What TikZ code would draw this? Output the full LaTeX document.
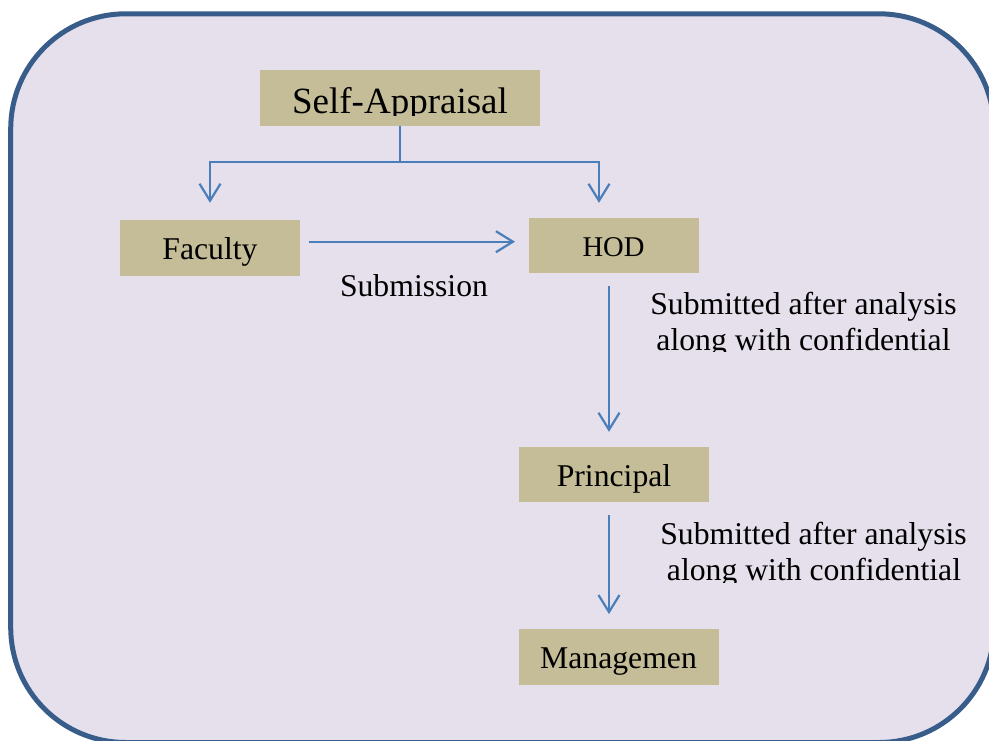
\documentclass[tikz,border=0pt]{standalone}
\usepackage{fontspec}
\setmainfont{Liberation Serif}
\usetikzlibrary{arrows.meta}

\definecolor{framefill}{HTML}{E6E0EC}
\definecolor{frameline}{HTML}{385D8A}
\definecolor{boxfill}{HTML}{C4BD97}
\definecolor{linkblue}{HTML}{4A7EBB}

\tikzset{
  stagebox/.style={fill=boxfill, inner sep=0pt, text depth=0pt,
    font=\fontsize{31.7}{36}\selectfont},
  note/.style={anchor=base, inner sep=0pt, font=\fontsize{31.7}{36}\selectfont},
  flow/.style={draw=linkblue, line width=2.2pt,
    -{Straight Barb[length=17pt, width=21pt]}},
  plain/.style={draw=linkblue, line width=2.2pt}
}

\begin{document}
\begin{tikzpicture}[x=1pt, y=-1pt]
  \useasboundingbox (0,0) rectangle (989,740);

  % rounded panel behind the chart
  \filldraw[fill=framefill, draw=frameline, line width=5pt,
    rounded corners=115pt] (10.7,13.8) rectangle (994,742.5);

  % stages
  \node[stagebox, minimum width=280pt, minimum height=56pt, text height=30.6pt,
    font=\fontsize{37}{40}\selectfont] (self) at (400,98) {Self-Appraisal};
  % descenders of the title are hidden by the box colour
  \fill[boxfill] ([yshift=10pt]self.south west) rectangle (self.south east);

  \node[stagebox, minimum width=180pt, minimum height=56pt, text height=22.6pt]
    (fac) at (210,248) {Faculty};
  \node[stagebox, minimum width=170pt, minimum height=55.3pt, text height=20.6pt,
    font=\fontsize{28.6}{32}\selectfont] (hod) at (613.5,245.7) {HOD};
  \node[stagebox, minimum width=190pt, minimum height=55.6pt, text height=23pt]
    (prin) at (614,474.5) {Principal};
  \node[stagebox, minimum width=200pt, minimum height=56pt, text height=22.6pt]
    (mgmt) at (618.5,657) {Managemen};

  % helper coordinates for the connector routes
  \coordinate (fork) at (599,161.7);
  \coordinate (subY) at (0,241.7);
  \coordinate (colX) at (609,0);

  % split from Self-Appraisal to Faculty and HOD
  \draw[plain] (self.south) -- (self.south |- fork);
  \draw[draw=linkblue, line width=2.2pt,
    {Straight Barb[length=17pt, width=21pt]}-{Straight Barb[length=17pt, width=21pt]},
    shorten <=17pt, shorten >=15pt]
    (fac.north) |- (fork) -- (fork |- hod.north);

  % Faculty to HOD
  \draw[flow, shorten <=8.3pt, shorten >=13.3pt] (fac.east |- subY) -- (hod.west |- subY);
  \node[note] (sublbl) at (414,296) {Submission};

  % HOD to Principal
  \draw[flow, shorten <=12.7pt, shorten >=14.7pt] (hod.south -| colX) -- (prin.north -| colX);
  \node[note] (hodlblA) at (803.5,314.3) {Submitted after analysis};
  \begin{scope}
    \clip (640,320) rectangle (989,351.7);
    \node[note] (hodlblB) at (803.5,350) {along with confidential};
  \end{scope}

  % Principal to Management
  \draw[flow, shorten <=12.7pt, shorten >=14.7pt] (prin.south -| colX) -- (mgmt.north -| colX);
  \node[note] (prinlblA) at (813.5,544.3) {Submitted after analysis};
  \begin{scope}
    \clip (650,550) rectangle (989,582);
    \node[note] (prinlblB) at (814,580) {along with confidential};
  \end{scope}
\end{tikzpicture}
\end{document}
